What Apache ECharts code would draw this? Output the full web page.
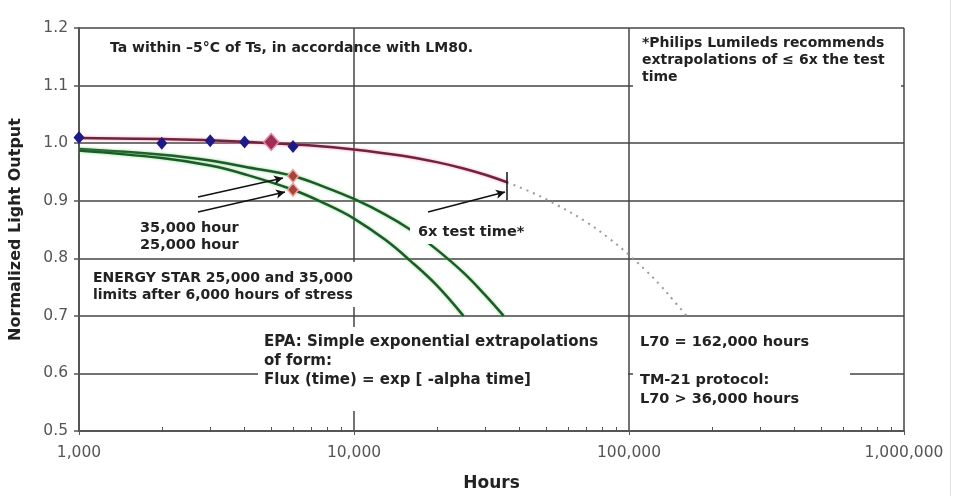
<!DOCTYPE html>
<html><head><meta charset="utf-8">
<script src="https://cdn.jsdelivr.net/npm/echarts@6/dist/echarts.min.js"></script>
<style>html,body{margin:0;padding:0;background:#fff}#c{width:960px;height:496px}</style>
</head><body><div id="c"></div>
<script>
// ---- data ----
const xTickHours = [1000, 10000, 100000, 1000000];
const minorTickHours = [2000,3000,4000,5000,6000,7000,8000,9000,
  20000,30000,40000,50000,60000,70000,80000,90000,
  200000,300000,400000,500000,600000,700000,800000,900000];

const measuredHours = [1000, 2000, 3000, 4000, 5000, 6000];
const measuredValues = [1.010, 1.000, 1.004, 1.002, 1.002, 0.994];
const highlightHours = [5000];
const highlightValues = [1.002];

const fitHours = [1000, 2000, 3000, 5000, 7000, 10000, 15000, 20000, 25000, 30000, 36000];
const fitValues = [1.009, 1.007, 1.005, 1.000, 0.996, 0.989, 0.978, 0.967, 0.956, 0.945, 0.932];

const extrapHours = [36000, 45000, 55000, 70000, 85000, 100000, 115000, 130000, 145000, 162000];
const extrapValues = [0.932, 0.913, 0.892, 0.863, 0.834, 0.806, 0.779, 0.753, 0.727, 0.700];

const limit35Hours = [1000, 2000, 3000, 4000, 6000, 8000, 10000, 13000, 16000, 20000, 25000, 30000, 35000];
const limit35Values = [0.990, 0.980, 0.970, 0.959, 0.943, 0.922, 0.903, 0.876, 0.850, 0.815, 0.775, 0.736, 0.700];
const limit25Hours = [1000, 2000, 3000, 4000, 6000, 8000, 10000, 13000, 16000, 20000, 25000];
const limit25Values = [0.987, 0.974, 0.961, 0.946, 0.919, 0.893, 0.869, 0.832, 0.796, 0.753, 0.700];
const limitMarkHours = [6000, 6000];
const limitMarkValues = [0.943, 0.919];

const arrowFrom = [[2709, 0.9065], [2709, 0.8805], [18580, 0.8805]];
const arrowTo   = [[5519, 0.9394], [5612, 0.9152], [35400, 0.9152]];
const testTimeMark = [[36000, 0.950], [36000, 0.901]];

const pairs = (xs, ys) => xs.map((x, i) => [x, ys[i]]);

// ---- chart ----
const chart = echarts.init(document.getElementById('c'), null, {renderer: 'canvas'});
const gridColor = '#444';
const annFont = 'bold 14.5px "DejaVu Sans"';
const annColor = '#222';

function txt(x, y, text, lh, font) {
  return {type: 'text', x: x, y: y, z: 101,
    style: {text: text, font: font || annFont, fill: annColor, lineHeight: lh || 17}};
}
function box(x, y, w, h) {
  return {type: 'rect', z: 100, shape: {x: x, y: y, width: w, height: h},
    style: {fill: '#fff'}};
}

chart.setOption({
  animation: false,
  backgroundColor: '#fff',
  grid: {left: 79, right: 56, top: 28, bottom: 65, containLabel: false, outerBoundsMode: 'none'},
  xAxis: [{
    type: 'log', logBase: 10, min: 1000, max: 1000000,
    name: 'Hours', nameLocation: 'middle', nameGap: 44,
    nameTextStyle: {fontFamily: 'DejaVu Sans', fontWeight: 'bold', fontSize: 17, color: '#222'},
    axisLine: {lineStyle: {color: '#555', width: 2}},
    axisTick: {show: true, length: 4, lineStyle: {color: '#555', width: 1}},
    axisLabel: {fontFamily: 'DejaVu Sans', fontSize: 15.5, color: '#555', margin: 14,
      formatter: v => Math.round(v).toLocaleString('en-US')},
    splitLine: {show: true, lineStyle: {color: gridColor, width: 1.5}}
  }, {
    type: 'log', logBase: 10, min: 1000, max: 1000000, position: 'bottom',
    axisLine: {show: false},
    axisTick: {show: true, customValues: minorTickHours, inside: true, length: 4,
      lineStyle: {color: '#555', width: 1}},
    axisLabel: {show: false},
    splitLine: {show: false}
  }],
  yAxis: {
    type: 'value', min: 0.5, max: 1.2, interval: 0.1,
    name: 'Normalized Light Output', nameLocation: 'middle', nameGap: 55,
    nameTextStyle: {fontFamily: 'DejaVu Sans', fontWeight: 'bold', fontSize: 16, color: '#222'},
    axisLine: {show: true, lineStyle: {color: '#555', width: 2}},
    axisTick: {show: true, length: 5, lineStyle: {color: '#555', width: 1.5}},
    axisLabel: {fontFamily: 'DejaVu Sans', fontSize: 15.5, color: '#555', margin: 11,
      formatter: v => v.toFixed(1)},
    splitLine: {show: true, lineStyle: {color: gridColor, width: 1.5}}
  },
  series: [
    {type: 'line', name: 'limit35', data: pairs(limit35Hours, limit35Values), smooth: 0.4,
     symbol: 'none', z: 3,
     lineStyle: {color: '#1d5a2a', width: 2.5, shadowColor: 'rgba(90,200,90,0.7)', shadowBlur: 3}},
    {type: 'line', name: 'limit25', data: pairs(limit25Hours, limit25Values), smooth: 0.4,
     symbol: 'none', z: 3,
     lineStyle: {color: '#1d5a2a', width: 2.5, shadowColor: 'rgba(90,200,90,0.7)', shadowBlur: 3}},
    {type: 'line', name: 'extrap', data: pairs(extrapHours, extrapValues), smooth: 0.4,
     symbol: 'none', z: 3,
     lineStyle: {color: '#9a9a9a', width: 2, type: [2, 5]}},
    {type: 'line', name: 'fit', data: pairs(fitHours, fitValues), smooth: 0.4,
     symbol: 'none', z: 4,
     lineStyle: {color: '#6e2440', width: 2.5, shadowColor: 'rgba(255,130,160,0.8)', shadowBlur: 3}},
    {type: 'scatter', name: 'measured', data: pairs(measuredHours, measuredValues),
     symbol: 'diamond', symbolSize: [11, 13], z: 5,
     itemStyle: {color: '#1e1b86', opacity: 1}},
    {type: 'scatter', name: 'highlight', data: pairs(highlightHours, highlightValues),
     symbol: 'diamond', symbolSize: [15, 17], z: 6,
     itemStyle: {color: '#a02c58', borderColor: '#e28aa6', borderWidth: 1.5, opacity: 1}},
    {type: 'scatter', name: 'limits', data: pairs(limitMarkHours, limitMarkValues),
     symbol: 'diamond', symbolSize: [11, 13], z: 6,
     itemStyle: {color: '#a8433c', borderColor: '#f0a8a0', borderWidth: 1.5, opacity: 1},
     markLine: {
       silent: true, animation: false, z: 7,
       symbol: ['none', 'arrow'], symbolSize: [7, 9],
       label: {show: false},
       lineStyle: {color: '#111', width: 1.5, type: 'solid'},
       data: arrowFrom.map((f, i) => [{coord: f}, {coord: arrowTo[i]}]).concat([
         [{coord: testTimeMark[0], symbol: 'none'}, {coord: testTimeMark[1], symbol: 'none'}]
       ])
     }}
  ],
  graphic: {elements: [
    box(633, 31, 268, 95),
    box(88, 262, 274, 45),
    box(258, 327, 370, 84),
    box(410, 222, 128, 22),
    box(633, 322, 217, 90),
    txt(110, 40, 'Ta within \u20135\u00b0C of Ts, in accordance with LM80.', 17, 'bold 14px "DejaVu Sans"'),
    txt(642, 34.5, '*Philips Lumileds recommends\nextrapolations of \u2264 6x the test\ntime', 17, 'bold 14px "DejaVu Sans"'),
    txt(140, 219.5, '35,000 hour\n25,000 hour', 17),
    txt(93, 269.5, 'ENERGY STAR 25,000 and 35,000\nlimits after 6,000 hours of stress', 17, 'bold 14px "DejaVu Sans"'),
    txt(264, 332.5, 'EPA: Simple exponential extrapolations\nof form:\nFlux (time) = exp [ -alpha time]', 19, 'bold 15px "DejaVu Sans"'),
    txt(418, 223.5, '6x test time*', 17),
    txt(640, 333.5, 'L70 = 162,000 hours', 17),
    txt(640, 370.5, 'TM-21 protocol:\nL70 > 36,000 hours', 19),
    {type: 'line', z: 1, shape: {x1: 950.5, y1: 0, x2: 950.5, y2: 496}, style: {stroke: '#e2e2e2', lineWidth: 1}}
  ]}
});
</script>
</body></html>
